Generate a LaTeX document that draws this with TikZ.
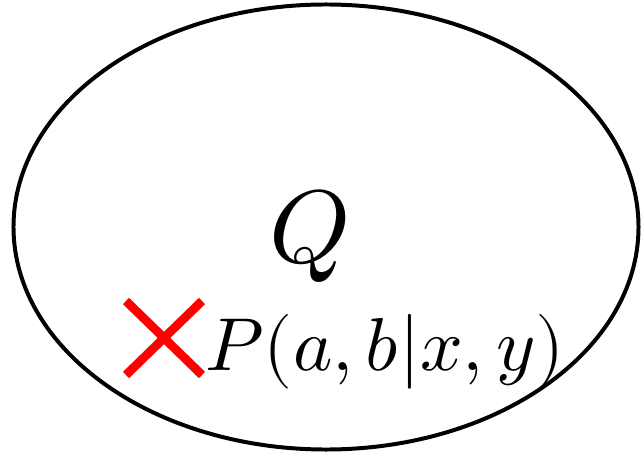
\documentclass[tikz,border=0pt]{standalone}
\usepackage{unicode-math}
\usetikzlibrary{shapes.geometric}
\definecolor{crossRed}{RGB}{255,0,0}

\begin{document}
\begin{tikzpicture}[x=0.03cm,y=-0.03cm,
  % ── the set ──
  setbox/.style={ellipse, draw=black, line width=3.4pt, inner sep=0pt,
                 minimum width=18.75cm, minimum height=13.35cm},
  % ── labels ──
  biglabel/.style={inner sep=0pt, font=\fontsize{88}{96}\selectfont},
  problabel/.style={inner sep=0pt, font=\fontsize{64}{72}\selectfont},
  % ── the red cross ──
  cross/.style={crossRed, line width=7.5pt},
]
\useasboundingbox (0,0) rectangle (642,453);

%% ─── set Q ───
\node[setbox] (setQ) at (326,227) {};
\node[biglabel, anchor=base] (labQ) at (310,262) {$Q$};

%% ─── behaviour P(a,b|x,y) ───
\node[problabel, anchor=base west] (prob) at (205,370) {$P(a,b|x,y)$};

% cross marking the point
\coordinate (cTL) at (126,301);
\coordinate (cBR) at (202,375);
\coordinate (cTR) at (202,301);
\coordinate (cBL) at (126,375);
\draw[cross] (cTL) -- (cBR);
\draw[cross] (cTR) -- (cBL);

\end{tikzpicture}
\end{document}
